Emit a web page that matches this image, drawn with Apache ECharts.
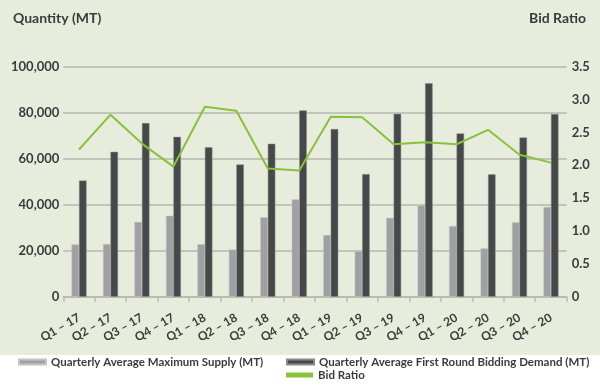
<!DOCTYPE html>
<html>
<head>
<meta charset="utf-8">
<script src="https://cdn.jsdelivr.net/npm/echarts@6/dist/echarts.min.js"></script>
<style>html,body{margin:0;padding:0;background:#fff}#c{width:600px;height:385px}</style>
</head>
<body>
<div id="c"></div>
<script>
const categories = ['Q1 – 17','Q2 – 17','Q3 – 17','Q4 – 17','Q1 – 18','Q2 – 18','Q3 – 18','Q4 – 18','Q1 – 19','Q2 – 19','Q3 – 19','Q4 – 19','Q1 – 20','Q2 – 20','Q3 – 20','Q4 – 20'];
const maxSupply = [22700, 22900, 32500, 35200, 22800, 20500, 34500, 42300, 26800, 19800, 34300, 39700, 30700, 21000, 32300, 39000];
const firstRoundDemand = [50500, 63000, 75500, 69500, 65000, 57500, 66500, 81000, 72900, 53300, 79500, 92800, 71000, 53200, 69200, 79400];
const bidRatio = [2.24, 2.77, 2.33, 1.98, 2.89, 2.83, 1.95, 1.92, 2.74, 2.73, 2.32, 2.35, 2.32, 2.54, 2.16, 2.04];
const leftTicks = {min: 0, max: 100000, interval: 20000};
const rightTicks = {min: 0, max: 3.5, interval: 0.5};

const txt = '#3b3b3b';
const font = 'Lato';
const chart = echarts.init(document.getElementById('c'));
chart.setOption({
  backgroundColor: new echarts.graphic.LinearGradient(0, 0, 0, 1, [
    {offset: 0, color: '#e8ecdd'}, {offset: 0.922, color: '#e8ecdd'},
    {offset: 0.922, color: '#ffffff'}, {offset: 1, color: '#ffffff'}
  ]),
  animation: false,
  textStyle: {fontFamily: font},
  title: [
    {text: 'Quantity (MT)', left: 8, top: 6, textStyle: {fontSize: 14, fontWeight: 'bold', color: txt, fontFamily: font}},
    {text: 'Bid Ratio', right: 9, top: 6, textStyle: {fontSize: 14, fontWeight: 'bold', color: txt, fontFamily: font}}
  ],
  grid: {left: 63.3, right: 33.3, top: 66.7, bottom: 88.3, containLabel: false},
  legend: [
    {data: ['Quarterly Average Maximum Supply (MT)'], left: 18, top: 356, icon: 'rect', itemWidth: 27, itemHeight: 5, padding: 0,
     textStyle: {fontSize: 11.5, color: txt, fontWeight: 'bold', fontFamily: font}},
    {data: ['Quarterly Average First Round Bidding Demand (MT)'], left: 286, top: 356, icon: 'rect', itemWidth: 27, itemHeight: 5, padding: 0,
     textStyle: {fontSize: 11.5, color: txt, fontWeight: 'bold', fontFamily: font}},
    {data: ['Bid Ratio'], left: 286, top: 369, icon: 'rect', itemWidth: 27, itemHeight: 5, padding: 0,
     textStyle: {fontSize: 11.5, color: txt, fontWeight: 'bold', fontFamily: font}}
  ],
  xAxis: {
    type: 'category', data: categories, boundaryGap: true,
    axisLine: {lineStyle: {color: '#b6b9ae', width: 1.5}},
    axisTick: {show: true, length: 5, lineStyle: {color: '#b6b9ae', width: 1.5}},
    axisLabel: {rotate: 30, interval: 0, fontSize: 12, fontWeight: 'bold', color: txt, margin: 20, fontFamily: font}
  },
  yAxis: [
    {type: 'value', min: leftTicks.min, max: leftTicks.max, interval: leftTicks.interval,
     axisLine: {show: false}, axisTick: {show: false},
     splitLine: {lineStyle: {color: '#b6b9ae', width: 1.5}},
     axisLabel: {fontSize: 13, fontWeight: 'bold', color: txt, margin: 4, fontFamily: font,
       formatter: v => v.toLocaleString('en-US')}},
    {type: 'value', min: rightTicks.min, max: rightTicks.max, interval: rightTicks.interval,
     axisLine: {show: false}, axisTick: {show: false}, splitLine: {show: false},
     axisLabel: {fontSize: 13, fontWeight: 'bold', color: txt, margin: 5, fontFamily: font,
       formatter: v => v === 0 ? '0' : v.toFixed(1)}}
  ],
  series: [
    {name: 'Quarterly Average Maximum Supply (MT)', type: 'bar', data: maxSupply, barWidth: 7.5, barGap: '0%',
     itemStyle: {color: '#a0a0a4', borderColor: '#c4c5c2', borderWidth: 0.5}},
    {name: 'Quarterly Average First Round Bidding Demand (MT)', type: 'bar', data: firstRoundDemand, barWidth: 7.5, barGap: '0%',
     itemStyle: {color: '#47484a', borderColor: '#8a8b88', borderWidth: 0.5}},
    {name: 'Bid Ratio', type: 'line', yAxisIndex: 1, data: bidRatio, showSymbol: false, symbol: 'none',
     lineStyle: {color: '#88c23c', width: 2}, itemStyle: {color: '#88c23c'}}
  ]
});
</script>
</body>
</html>
